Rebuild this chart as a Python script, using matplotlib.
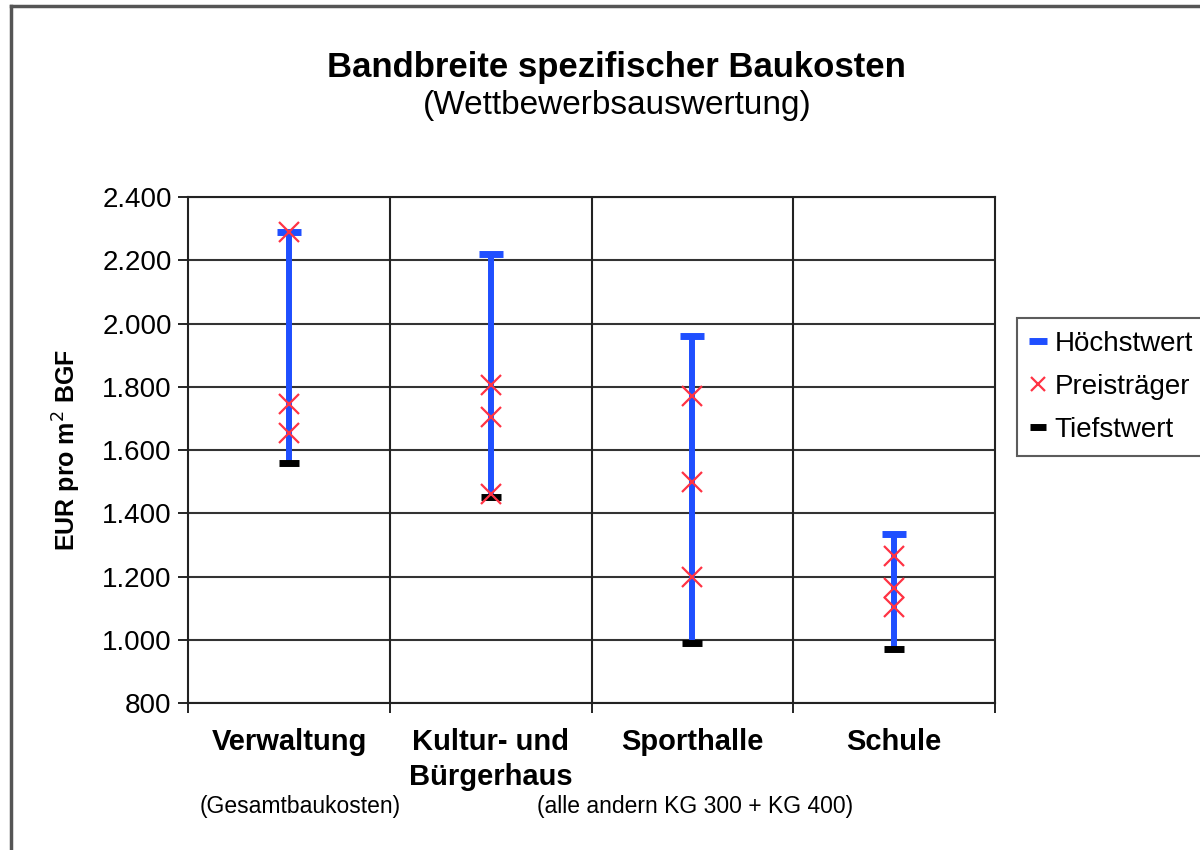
import matplotlib.pyplot as plt
from matplotlib.lines import Line2D
from matplotlib.ticker import FuncFormatter

plt.rcParams['font.family'] = ['Liberation Sans', 'DejaVu Sans']

categories = ['Verwaltung', 'Kultur- und\nBürgerhaus', 'Sporthalle', 'Schule']
hoechstwert = [2290, 2220, 1960, 1335]
tiefstwert = [1560, 1450, 990, 970]
preistraeger = [
    [2290, 1745, 1655],
    [1805, 1705, 1460],
    [1770, 1500, 1200],
    [1265, 1165, 1105],
]

fig = plt.figure(figsize=(12, 8.5), dpi=100)
ax = fig.add_axes([0.157, 0.173, 0.672, 0.595])

xpos = [i + 0.5 for i in range(len(categories))]

# range lines
ax.vlines(xpos, tiefstwert, hoechstwert, color='#1f4fff', lw=4.3, zorder=3)
ax.plot(xpos, hoechstwert, ls='none', marker='_', ms=17, mew=5,
        color='#1f4fff', zorder=4, label='Höchstwert')
ax.plot(xpos, tiefstwert, ls='none', marker='_', ms=15, mew=5,
        color='black', zorder=4, label='Tiefstwert')

px, py = [], []
for x, vals in zip(xpos, preistraeger):
    for v in vals:
        px.append(x)
        py.append(v)
ax.plot(px, py, ls='none', marker='x', ms=14, mew=1.6,
        color='#ff3344', zorder=5, label='Preisträger')

ax.set_xlim(0, 4)
ax.set_ylim(800, 2400)
ax.set_yticks(range(800, 2401, 200))
ax.yaxis.set_major_formatter(FuncFormatter(lambda v, p: f'{int(v):,}'.replace(',', '.')))
ax.grid(axis='y', color='#333333', lw=1.5)
for b in [1, 2, 3]:
    ax.axvline(b, color='#222222', lw=1.5)

ax.set_xticks(xpos)
ax.set_xticklabels(categories, fontweight='bold', fontsize=21, linespacing=1.3)
ax.set_xticks([0, 1, 2, 3, 4], minor=True)
ax.tick_params(axis='x', which='major', length=0, pad=18)
ax.tick_params(axis='x', which='minor', length=7, width=1.2, direction='out')
ax.tick_params(axis='y', length=7, width=1.2, labelsize=20, pad=5)

for s in ax.spines.values():
    s.set_color('#222222')
    s.set_linewidth(1.5)

ax.set_ylabel('EUR pro m$^2$ BGF', fontsize=18, fontweight='bold', labelpad=14)

fig.text(0.514, 0.920, 'Bandbreite spezifischer Baukosten', ha='center',
         va='center', fontsize=25, fontweight='bold')
fig.text(0.514, 0.876, '(Wettbewerbsauswertung)', ha='center', va='center', fontsize=24)

fig.text(0.25, 0.051, '(Gesamtbaukosten)', ha='center', va='center', fontsize=16.5)
fig.text(0.579, 0.051, '(alle andern KG 300 + KG 400)', ha='center', va='center', fontsize=16.5)

handles, labels = ax.get_legend_handles_labels()
order = [0, 2, 1]
leg = fig.legend([handles[i] for i in order], [labels[i] for i in order],
                 loc='upper left', bbox_to_anchor=(0.836, 0.642), fontsize=20,
                 frameon=True, fancybox=False, edgecolor='#333333',
                 handlelength=0.6, handletextpad=0.3, borderpad=0.45,
                 labelspacing=0.62, markerscale=0.75)
leg.get_frame().set_linewidth(1.5)

# outer chart frame
fig.add_artist(Line2D([0.0095, 0.0095], [0, 0.993], color='#555555', lw=2.5))
fig.add_artist(Line2D([0.0095, 1.0], [0.993, 0.993], color='#555555', lw=2.5))

fig.savefig('out.png', dpi=100)
